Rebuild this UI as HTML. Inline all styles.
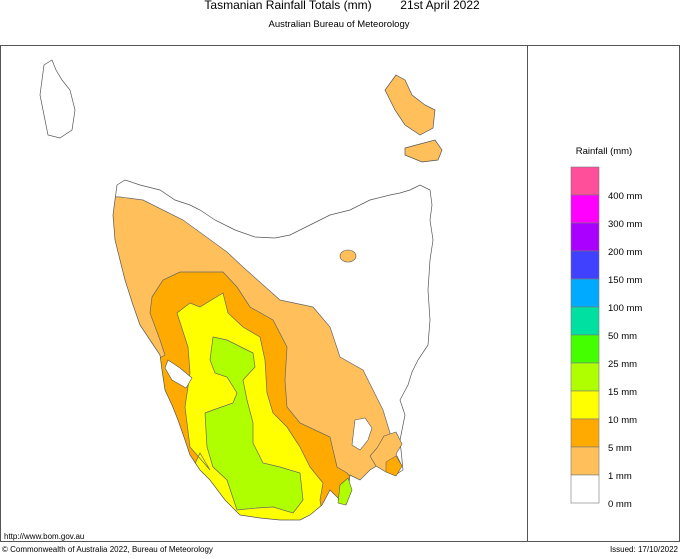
<!DOCTYPE html>
<html><head><meta charset="utf-8"><style>
body{margin:0;background:#fff;font-family:"Liberation Sans",sans-serif}
svg text{font-family:"Liberation Sans",sans-serif}
</style></head><body>
<svg width="680" height="554" viewBox="0 0 680 554">
<text x="288" y="9" font-size="12" text-anchor="middle">Tasmanian Rainfall Totals (mm)</text>
<text x="440" y="9" font-size="12" text-anchor="middle">21st April 2022</text>
<text x="339" y="27" font-size="9.5" text-anchor="middle">Australian Bureau of Meteorology</text>
<rect x="0.5" y="45.5" width="679" height="496" fill="none" stroke="#555"/>
<line x1="527.5" y1="45" x2="527.5" y2="542" stroke="#555"/>
<defs><clipPath id="tas"><polygon id="tasp" points="117,185 125,180 140,185 160,190 175,200 190,205 200,210 215,220 235,230 255,237 275,238 290,235 310,225 330,215 350,210 370,200 390,195 400,193 410,190 420,185 430,190 432,205 430,220 433,240 430,260 428,290 430,320 428,345 418,360 412,372 408,385 400,400 405,415 400,440 403,470 395,475 385,470 378,465 370,470 360,480 350,475 348,490 340,500 330,490 322,505 310,515 300,520 280,520 260,518 240,515 225,500 210,480 200,470 190,455 185,440 178,420 172,405 165,390 162,370 160,355 150,340 140,325 133,305 125,280 120,260 115,240 113,215"/></clipPath></defs>
<g>
<use href="#tasp" fill="#fff"/>
<g clip-path="url(#tas)" stroke="#666" stroke-width="0.7">
<polygon fill="#ffc05c" points="120,197 143,200 183,220 227,252 243,267 280,300 313,307 330,327 340,357 363,370 383,410 390,433 393,453 420,560 0,560 0,190"/>
<polygon fill="#ffaa00" points="152,297 163,280 180,272 223,272 237,287 250,307 273,320 287,347 285,380 287,407 300,423 330,437 337,467 347,473 353,480 380,560 120,560 120,380 165,355 160,340 150,313"/>
<polygon fill="#ffff00" points="177,313 190,303 200,307 223,293 228,313 243,327 260,337 265,360 267,393 273,413 287,427 300,447 310,467 323,483 320,500 330,560 150,560 200,453 210,470 190,447 185,407 190,373 188,347"/>
<polygon fill="#b0ff00" points="213,337 227,340 253,353 255,367 243,380 247,400 253,423 253,443 263,463 280,467 300,473 303,500 293,513 273,507 257,508 237,510 227,480 213,467 207,447 205,413 213,410 233,403 237,393 227,377 215,373 210,360"/>
</g>
<use href="#tasp" fill="none" stroke="#555" stroke-width="0.7"/>
<polygon points="168,360 180,368 192,378 186,388 172,380 165,368" fill="#fff" stroke="#555" stroke-width="0.6"/>
<polygon points="355,420 365,418 372,428 368,440 360,450 352,445" fill="#fff" stroke="#555" stroke-width="0.6"/>
<polygon points="340,485 348,478 352,490 346,505 338,503" fill="#b0ff00" stroke="#555" stroke-width="0.6"/>
<ellipse cx="348" cy="256" rx="8" ry="6" fill="#ffc05c" stroke="#555" stroke-width="0.6"/>
<polygon points="384,436 396,432 402,444 396,454 402,466 396,476 386,472 376,466 370,456 377,448" fill="#ffc05c" stroke="#555" stroke-width="0.6"/>
<polygon points="386,462 396,456 402,466 396,476 386,472" fill="#ffaa00" stroke="#555" stroke-width="0.5"/>
</g>
<polygon points="44,65 52,60 56,70 62,80 70,90 75,110 72,130 60,138 48,135 44,115 40,95" fill="#fff" stroke="#555" stroke-width="0.7"/>
<polygon points="396,75 405,80 412,95 425,105 435,110 433,128 420,135 405,125 395,110 385,90" fill="#ffc05c" stroke="#555" stroke-width="0.7"/>
<polygon points="405,148 420,144 435,140 442,150 438,160 422,162 405,155" fill="#ffc05c" stroke="#555" stroke-width="0.7"/>
<text x="604" y="154" font-size="9.5" text-anchor="middle">Rainfall (mm)</text>
<g id="legend"></g>
<text x="4" y="539" font-size="8">http://www.bom.gov.au</text>
<text x="2" y="552" font-size="8">© Commonwealth of Australia 2022, Bureau of Meteorology</text>
<text x="678" y="552" font-size="8" text-anchor="end">Issued: 17/10/2022</text>
</svg>
<script>
const colors=["#ff4f9a","#ff00ff","#aa00ff","#4040ff","#00aaff","#00e0a0","#44ff00","#b0ff00","#ffff00","#ffaa00","#ffc05c","#ffffff"];
const labels=["400 mm","300 mm","200 mm","150 mm","100 mm","50 mm","25 mm","15 mm","10 mm","5 mm","1 mm","0 mm"];
const g=document.getElementById('legend');
const ns="http://www.w3.org/2000/svg";
const top0=167,h=28;
colors.forEach((c,i)=>{
 const r=document.createElementNS(ns,'rect');
 r.setAttribute('x',571);r.setAttribute('y',top0+i*h);r.setAttribute('width',28);r.setAttribute('height',h);
 r.setAttribute('fill',c);r.setAttribute('stroke','#777');r.setAttribute('stroke-width','0.6');
 
 
 g.appendChild(r);
 const t=document.createElementNS(ns,'text');
 t.setAttribute('x',608);t.setAttribute('y',top0+(i+1)*h+4);t.setAttribute('font-size','9.5');
 t.textContent=labels[i];
 
 
 g.appendChild(t);
});
</script>
</body></html>
